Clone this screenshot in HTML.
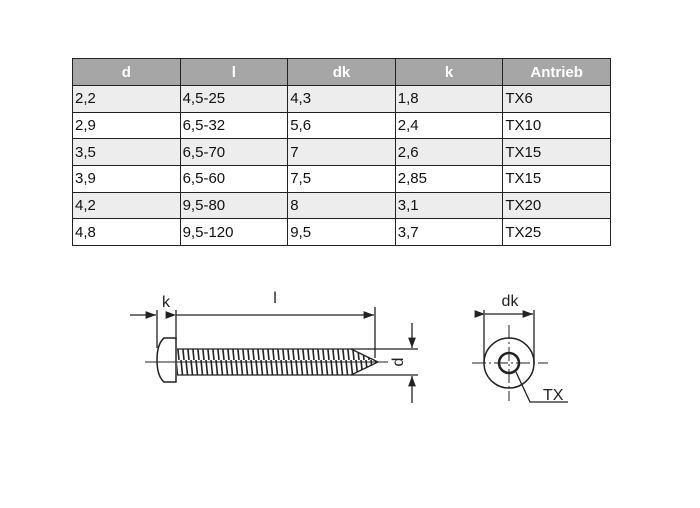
<!DOCTYPE html>
<html><head><style>
body{margin:0;width:700px;height:508px;background:#fff;position:relative;font-family:"Liberation Sans",Calibri,sans-serif;overflow:hidden}
table{position:absolute;left:72px;top:58px;border-collapse:collapse;font-size:15px}
td,th{border:1px solid #222;width:107.6px;padding:0 2px;box-sizing:border-box}
th{background:#a6a6a6;color:#fff;font-weight:bold;text-align:center;height:27px}
td{text-align:left;color:#111;height:26.7px}
tr:nth-child(even) td{background:#ededed}
svg{position:absolute;left:0;top:0}
</style></head><body>
<table>
<tr><th>d</th><th>l</th><th>dk</th><th>k</th><th>Antrieb</th></tr>
<tr><td>2,2</td><td>4,5-25</td><td>4,3</td><td>1,8</td><td>TX6</td></tr>
<tr><td>2,9</td><td>6,5-32</td><td>5,6</td><td>2,4</td><td>TX10</td></tr>
<tr><td>3,5</td><td>6,5-70</td><td>7</td><td>2,6</td><td>TX15</td></tr>
<tr><td>3,9</td><td>6,5-60</td><td>7,5</td><td>2,85</td><td>TX15</td></tr>
<tr><td>4,2</td><td>9,5-80</td><td>8</td><td>3,1</td><td>TX20</td></tr>
<tr><td>4,8</td><td>9,5-120</td><td>9,5</td><td>3,7</td><td>TX25</td></tr>
</table>
<svg width="700" height="508" viewBox="0 0 700 508" stroke="#222" fill="none" stroke-width="1.3">
<defs><marker id="a" markerWidth="8" markerHeight="6" refX="8" refY="3" orient="auto"><path d="M0,0L8,3L0,6z" fill="#222" stroke="none"/></marker>
<pattern id="th" width="5" height="30" patternUnits="userSpaceOnUse"><path d="M1,0L4,30" stroke="#222" stroke-width="1.6"/></pattern></defs>
<line x1="130" y1="315" x2="156" y2="315" marker-end="url(#a)"/>
<line x1="157" y1="310" x2="157" y2="348"/>
<line x1="176" y1="310" x2="176" y2="340"/>
<line x1="176" y1="315" x2="374" y2="315" marker-start="url(#a)" marker-end="url(#a)"/>
<line x1="375" y1="307" x2="375" y2="358"/>
<path d="M176,338 L164,338 Q157,344 157,360 Q157,376 164,382 L176,382 Z" stroke-width="1.5"/>
<rect x="177" y="349" width="174" height="26" fill="url(#th)" stroke="none"/>
<line x1="177" y1="349" x2="352" y2="349"/><line x1="177" y1="375" x2="352" y2="375"/>
<path d="M351,349 L378,362 L351,375" fill="url(#th)"/>
<line x1="145" y1="362" x2="388" y2="362" stroke-width="1"/>
<line x1="352" y1="349" x2="418" y2="349"/><line x1="352" y1="375" x2="418" y2="375"/>
<line x1="412" y1="323" x2="412" y2="348" marker-end="url(#a)"/>
<line x1="412" y1="403" x2="412" y2="376" marker-end="url(#a)"/>
<text x="399" y="362" transform="rotate(-90 399 362)" text-anchor="middle" dominant-baseline="middle" fill="#222" stroke="none" font-size="16">d</text>
<text x="166" y="307" text-anchor="middle" fill="#222" stroke="none" font-size="16">k</text>
<text x="275" y="303" text-anchor="middle" fill="#222" stroke="none" font-size="16">l</text>
<line x1="484" y1="310" x2="484" y2="362"/><line x1="534" y1="310" x2="534" y2="362"/>
<line x1="485" y1="314" x2="533" y2="314" marker-start="url(#a)" marker-end="url(#a)"/>
<text x="510" y="306" text-anchor="middle" fill="#222" stroke="none" font-size="16">dk</text>
<circle cx="509" cy="363" r="25" stroke-width="1.5"/>
<circle cx="509" cy="363" r="10" stroke-width="2.5"/>
<line x1="472" y1="363" x2="548" y2="363" stroke-width="1" stroke-dasharray="14,3,2,3"/>
<line x1="509" y1="325" x2="509" y2="401" stroke-width="1" stroke-dasharray="14,3,2,3"/>
<polyline points="516,372 530,402 568,402"/>
<text x="543" y="400" fill="#222" stroke="none" font-size="16">TX</text>
</svg>
</body></html>
